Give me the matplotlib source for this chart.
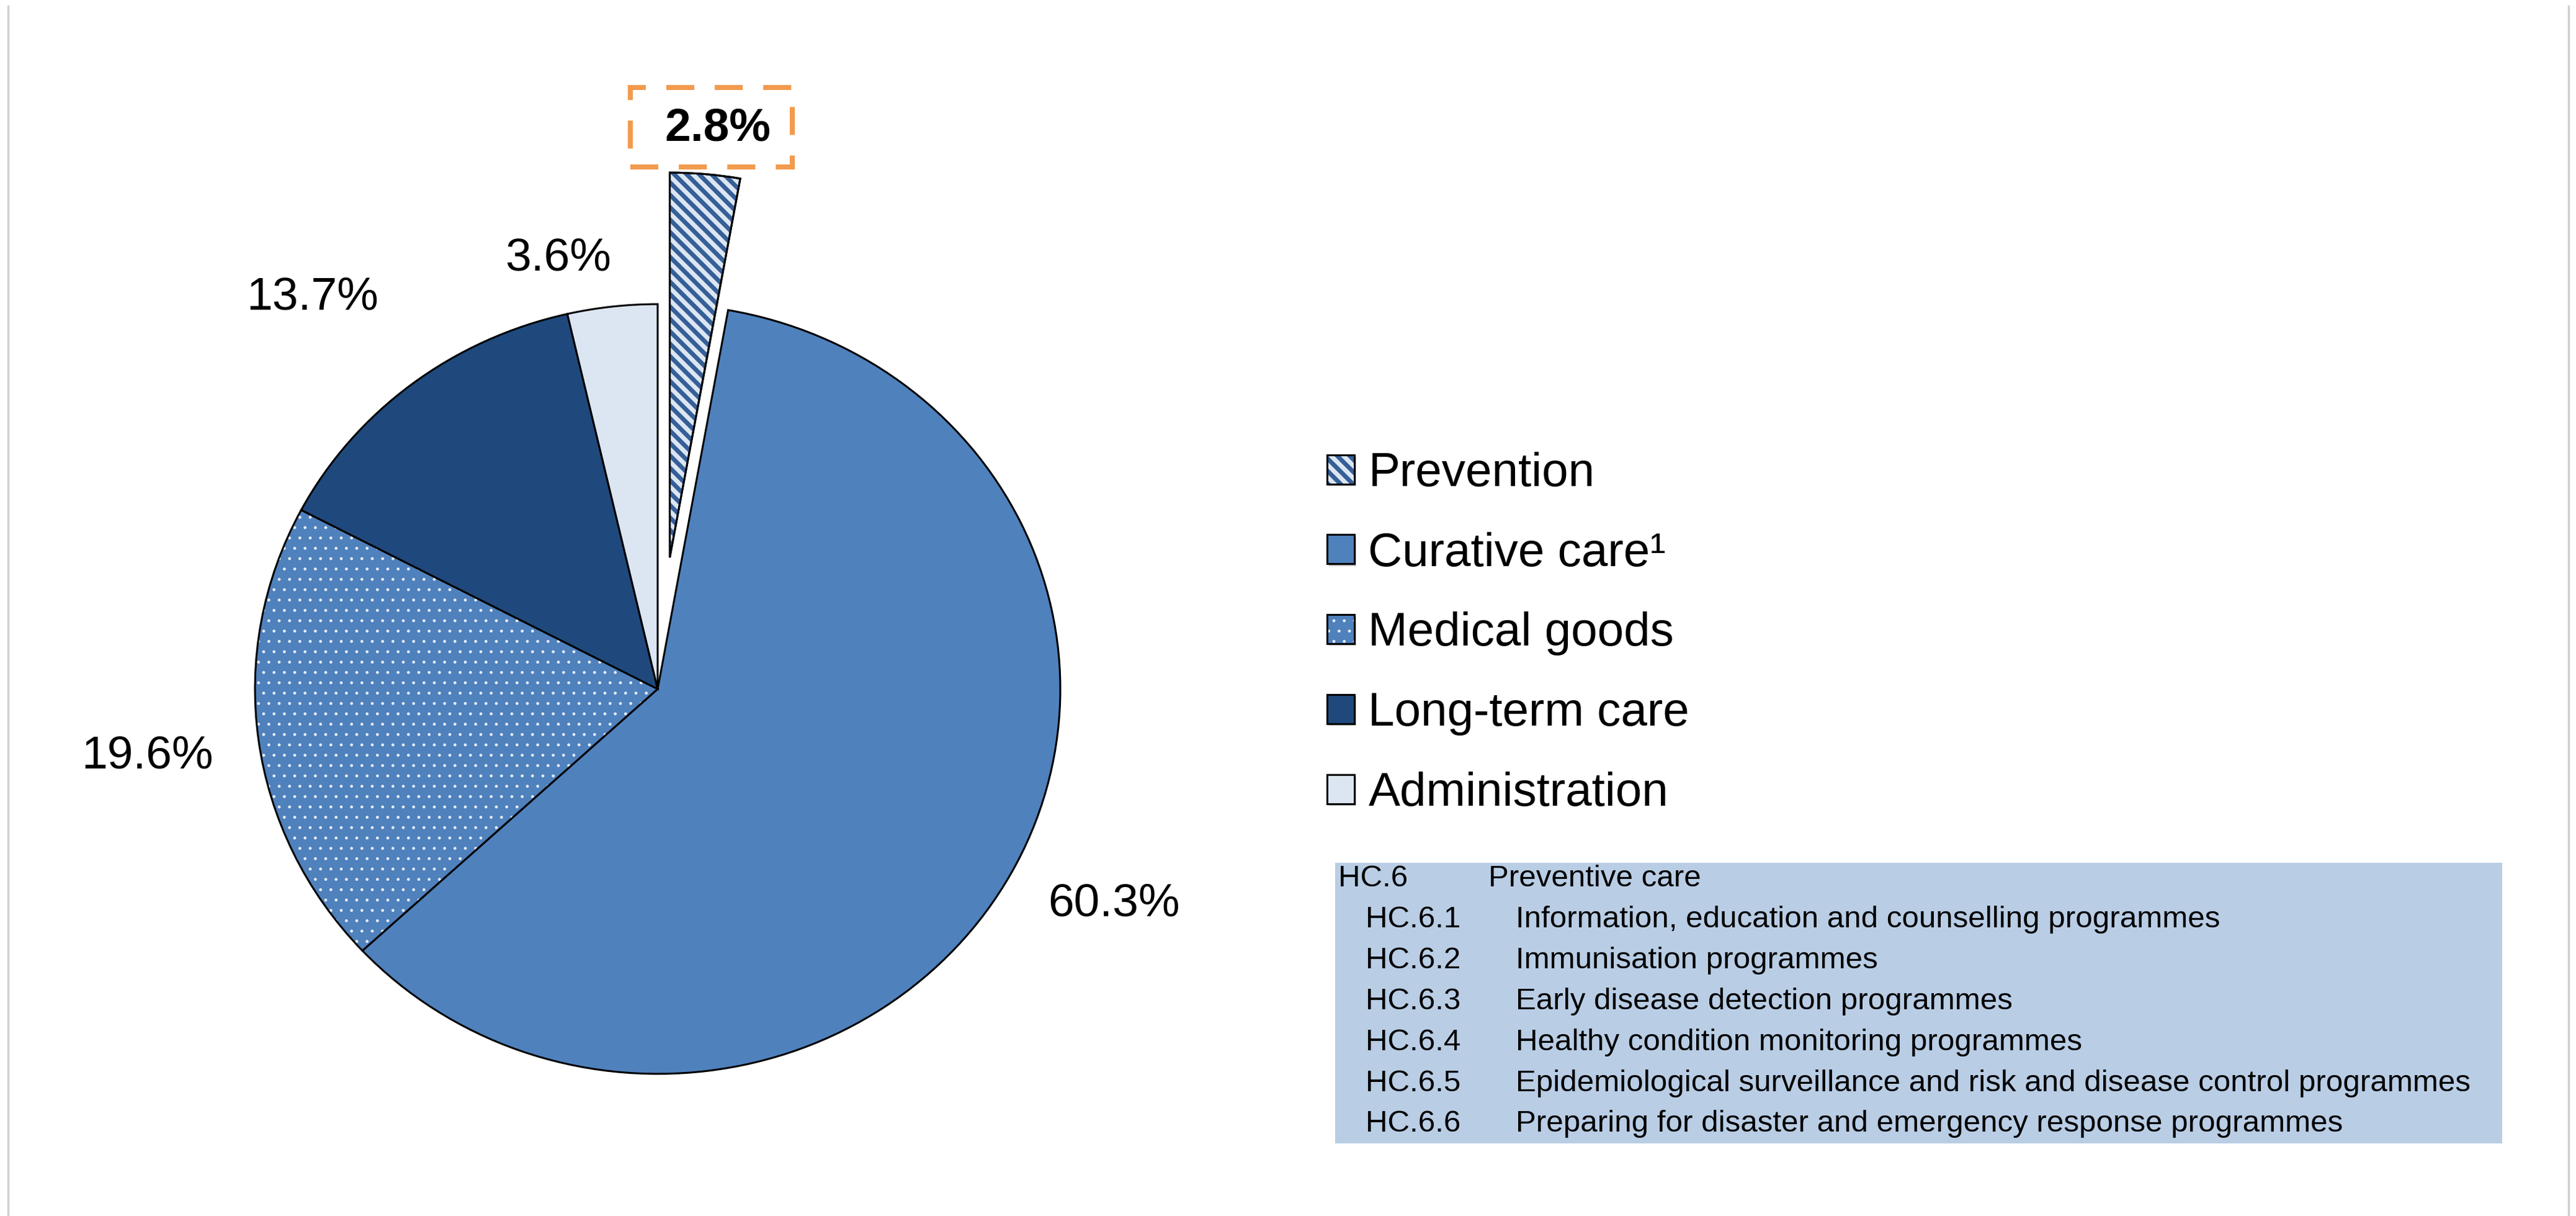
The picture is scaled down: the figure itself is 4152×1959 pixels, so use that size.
"""
Pie chart of health spending by function, with the HC.6 breakdown box.
"""

import numpy as np
import matplotlib.pyplot as plt
import matplotlib.patches as mpatches
import matplotlib.lines as mlines
import matplotlib.colors as mcolors
import matplotlib.patheffects as pe
from matplotlib.collections import PolyCollection
from matplotlib.legend_handler import HandlerPatch
from matplotlib.transforms import IdentityTransform

plt.rcParams['font.family'] = ['Liberation Sans', 'DejaVu Sans']

# data
categories = ['Prevention', 'Curative care\u00b9', 'Medical goods',
              'Long-term care', 'Administration']
shares = [2.8, 60.3, 19.6, 13.7, 3.6]
pct_labels = ['2.8%', '60.3%', '19.6%', '13.7%', '3.6%']

hc_codes = ['HC.6', 'HC.6.1', 'HC.6.2', 'HC.6.3', 'HC.6.4', 'HC.6.5', 'HC.6.6']
hc_names = ['Preventive care',
            'Information, education and counselling programmes',
            'Immunisation programmes',
            'Early disease detection programmes',
            'Healthy condition monitoring programmes',
            'Epidemiological surveillance and risk and disease control programmes',
            'Preparing for disaster and emergency response programmes']

# styles
face_colors = ['#DCE6F2', '#4F81BD', '#4F81BD', '#1F497D', '#DCE6F2']
stripe_dark = '#365F98'
dot_color = '#E6EDF7'
explode = [0.343, 0, 0, 0, 0]
orange = '#F29B4E'
edge_lw = 2.2

W, H, DPI = 4152, 1959, 100
fig = plt.figure(figsize=(W / DPI, H / DPI), dpi=DPI)
fig.patch.set_facecolor('white')


def fx(px):
    return px / W


def fy(py):
    return 1 - py / H


def stripe_polys(x0, y0, x1, y1, period):
    # "\" bands (half dark, half light) covering the box x0..x1, y0..y1
    polys = []
    for c in np.arange(np.floor((x0 + y0) / period) * period - period,
                       x1 + y1 + period, period):
        d = c + period / 2
        polys.append([(c - y0, y0), (c - y1, y1), (d - y1, y1), (d - y0, y0)])
    return polys


# pie axes: centre (1060, 1110) px, radii 649 x 620 px (slightly oval)
cx, cy, rx, ry = 1060, 1110, 649, 620
xlim = (-1.6, 1.6)
ylim = (-1.35, 1.75)
ax = fig.add_axes([fx(cx + xlim[0] * rx), fy(cy - ylim[0] * ry),
                   (xlim[1] - xlim[0]) * rx / W, (ylim[1] - ylim[0]) * ry / H])

wedges, _ = ax.pie(shares, explode=explode, colors=face_colors, startangle=90,
                   counterclock=False, hatch=[None, None, '.', None, None],
                   wedgeprops=dict(edgecolor='black', linewidth=edge_lw))
ax.set_aspect('auto')
ax.set_xlim(xlim)
ax.set_ylim(ylim)
ax.axis('off')

# light dots on medical goods
wedges[2]._hatch_color = mcolors.to_rgba(dot_color)

# diagonal stripes on the exploded prevention wedge
prev = wedges[0]
ext = prev.get_window_extent()
stripes = PolyCollection(stripe_polys(ext.x0, ext.y0, ext.x1, ext.y1, 20),
                         facecolors=stripe_dark, edgecolors='none',
                         transform=IdentityTransform(), zorder=prev.get_zorder() + 0.1)
stripes.set_clip_path(prev)
ax.add_collection(stripes, autolim=False)
ax.add_patch(mpatches.PathPatch(prev.get_path(), transform=prev.get_transform(),
                                fill=False, edgecolor='black', linewidth=edge_lw,
                                zorder=prev.get_zorder() + 0.2))

# percentage labels (data coords of the pie axes)
label_xy = [(0.149, 1.456), (1.133, -0.558), (-1.267, -0.174),
            (-0.858, 1.018), (-0.247, 1.119)]
texts = []
for i, (x, y) in enumerate(label_xy):
    t = ax.text(x, y, pct_labels[i], ha='center', va='center', fontsize=54,
                fontweight='bold' if i == 0 else 'normal', clip_on=False)
    texts.append(t)


class StripeHandler(HandlerPatch):
    def create_artists(self, legend, orig_handle, xdescent, ydescent, width,
                       height, fontsize, trans):
        rect = mpatches.Rectangle((-xdescent, -ydescent), width, height,
                                  facecolor=face_colors[0], edgecolor='none',
                                  transform=trans)
        pc = PolyCollection(stripe_polys(-xdescent, -ydescent, width - xdescent,
                                         height - ydescent, 14.4),
                            facecolors=stripe_dark, edgecolors='none',
                            transform=trans)
        pc.set_clip_path(rect)
        outline = mpatches.Rectangle((-xdescent, -ydescent), width, height,
                                     fill=False, edgecolor='black',
                                     linewidth=edge_lw, transform=trans)
        return [rect, pc, outline]


shadow = [pe.SimplePatchShadow(offset=(2.5, -2.5), shadow_rgbFace='#999999',
                               alpha=0.6), pe.Normal()]

# legend
leg = fig.legend(wedges, categories, loc='upper left',
                 bbox_to_anchor=(fx(2139), fy(728)), frameon=False,
                 fontsize=55, handlelength=0.57, handleheight=0.57,
                 handletextpad=0.3, labelspacing=0.756, borderpad=0,
                 borderaxespad=0, handler_map={prev: StripeHandler()})
for i, h in enumerate(leg.legend_handles):
    h.set_path_effects(shadow)
    if i == 2:
        h._hatch_color = mcolors.to_rgba(dot_color)

# HC.6 breakdown box
fig.add_artist(mpatches.Rectangle((fx(2152), fy(1842)), (4033 - 2152) / W,
                                  (1842 - 1390) / H, transform=fig.transFigure,
                                  facecolor='#B9CDE5', edgecolor='none'))
for i, (code, name) in enumerate(zip(hc_codes, hc_names)):
    y = fy(1416 + i * 65.8)
    indent = 0 if i == 0 else 44
    fig.text(fx(2157 + indent), y, code, fontsize=35.5, va='center')
    fig.text(fx(2399 + indent), y, name, fontsize=35.5, va='center')

# thin frame lines at the sides of the image
for x in (13, 4140):
    fig.add_artist(mlines.Line2D([fx(x), fx(x)], [fy(10), 0], color='#D0D0D0',
                                 linewidth=2.5, transform=fig.transFigure))

# dashed orange box round the highlighted 2.8% label
fig.canvas.draw()
bb = texts[0].get_window_extent()
bx = (bb.x0 + bb.x1) / 2 - 10
by = (bb.y0 + bb.y1) / 2 + 2
half_w, half_h = 130.5, 64
fig.add_artist(mpatches.Rectangle((bx - half_w, by - half_h), 2 * half_w, 2 * half_h,
                                  transform=IdentityTransform(), fill=False,
                                  edgecolor=orange, linewidth=5.8,
                                  linestyle=(0, (5.6, 4.1))))

fig.savefig('out.png', dpi=DPI)
